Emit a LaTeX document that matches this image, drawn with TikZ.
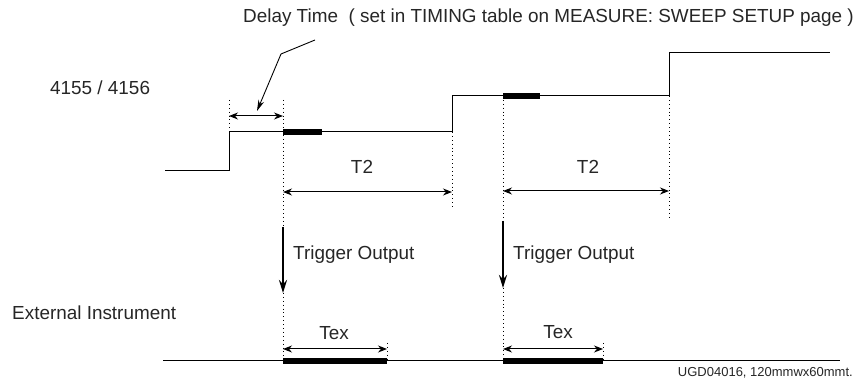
\documentclass[tikz,border=0pt]{standalone}
\usepackage{fontspec}
\setmainfont{Liberation Sans}
\usetikzlibrary{arrows.meta}
\begin{document}
\begin{tikzpicture}[x=1pt,y=-1pt,
  lbl/.style={font=\fontsize{18.9}{22}\selectfont, inner sep=0pt, text=black!85},
  small/.style={font=\fontsize{13}{15}\selectfont, inner sep=0pt, text=black!85},
  sig/.style={line width=1pt, line join=miter},
  burst/.style={line width=5.5pt},
  guide/.style={line width=0.9pt, dash pattern=on 0.9pt off 3pt},
  dimarrow/.style={{Stealth[length=9pt,width=7pt]}-{Stealth[length=9pt,width=7pt]}, line width=1pt},
  leader/.style={-{Stealth[length=11pt,width=6pt]}, line width=0.9pt},
  trig/.style={-{Stealth[length=13pt,width=8pt]}, line width=2.6pt}]
\useasboundingbox (0,0) rectangle (857,379);

% ---- labels
\node[lbl, anchor=west] (title) at (243,18) {Delay Time \ ( set in TIMING table on MEASURE: SWEEP SETUP page )};
\node[lbl, anchor=west] (dev) at (50,88) {4155 / 4156};
\node[lbl, anchor=west] (ext) at (12,313) {External Instrument};
\node[lbl] (t2a) at (362,167) {T2};
\node[lbl] (t2b) at (588,167) {T2};
\node[lbl, anchor=west] (trga) at (293,255) {Trigger Output};
\node[lbl, anchor=west] (trgb) at (513,255) {Trigger Output};
\node[lbl] (texa) at (334,333) {Tex};
\node[lbl] (texb) at (558,332) {Tex};
\node[small, anchor=east] (ref) at (853,373) {UGD04016, 120mmwx60mmt.};

% ---- signal coordinates (4155/4156)
\coordinate (s0) at (165,171);
\coordinate (s1) at (229,171);
\coordinate (s2) at (229,132);
\coordinate (s3) at (452,132);
\coordinate (s4) at (452,96);
\coordinate (s5) at (669,96);
\coordinate (s6) at (669,53);
\coordinate (s7) at (830,53);
\draw[sig] (s0) -- (s1) -- (s2) -- (s3) -- (s4) -- (s5) -- (s6) -- (s7);

% measurement bursts
\coordinate (m1a) at (283,132); \coordinate (m1b) at (322,132);
\coordinate (m2a) at (503,96);  \coordinate (m2b) at (540,96);
\draw[burst] (m1a) -- (m1b);
\draw[burst] (m2a) -- (m2b);

% ---- external instrument line
\coordinate (e0) at (163,361);
\coordinate (e1) at (840,361);
\draw[sig] (e0) -- (e1);
\coordinate (x1a) at (283,361); \coordinate (x1b) at (387,361);
\coordinate (x2a) at (503,361); \coordinate (x2b) at (603,361);
\draw[burst] (x1a) -- (x1b);
\draw[burst] (x2a) -- (x2b);

% ---- guide lines
\coordinate (g0t) at (229,100);
\draw[guide] (g0t) -- (s2);
\coordinate (g1t) at (283,100);
\coordinate (ta1) at (283,227);
\coordinate (tb1) at (283,293);
\draw[guide] (g1t) -- (ta1);
\draw[guide] (tb1) -- (x1a);
\coordinate (g2b) at (452,208);
\draw[guide] (s3) -- (g2b);
\coordinate (ta2) at (503,221);
\coordinate (tb2) at (503,288);
\draw[guide] (m2a) -- (ta2);
\draw[guide] (tb2) -- (x2a);
\coordinate (g3b) at (669,217);
\draw[guide] (s5) -- (g3b);
\coordinate (g4t) at (387,343);
\draw[guide] (g4t) -- (x1b);
\coordinate (g5t) at (603,343);
\draw[guide] (g5t) -- (x2b);

% ---- delay time
\coordinate (d0) at (229,116);
\coordinate (d1) at (283,116);
\draw[dimarrow] (d0) -- (d1);
\coordinate (l0) at (315,40);
\coordinate (l1) at (281,54);
\coordinate (l2) at (257,111);
\draw[leader] (l0) -- (l1) -- (l2);

% ---- T2 arrows
\coordinate (p1a) at (283,192); \coordinate (p1b) at (452,192);
\coordinate (p2a) at (503,191); \coordinate (p2b) at (669,191);
\draw[dimarrow] (p1a) -- (p1b);
\draw[dimarrow] (p2a) -- (p2b);

% ---- trigger outputs
\draw[trig] (ta1) -- (tb1);
\draw[trig] (ta2) -- (tb2);

% ---- Tex arrows
\coordinate (q1a) at (283,349); \coordinate (q1b) at (387,349);
\coordinate (q2a) at (503,349); \coordinate (q2b) at (603,349);
\draw[dimarrow] (q1a) -- (q1b);
\draw[dimarrow] (q2a) -- (q2b);
\end{tikzpicture}
\end{document}
